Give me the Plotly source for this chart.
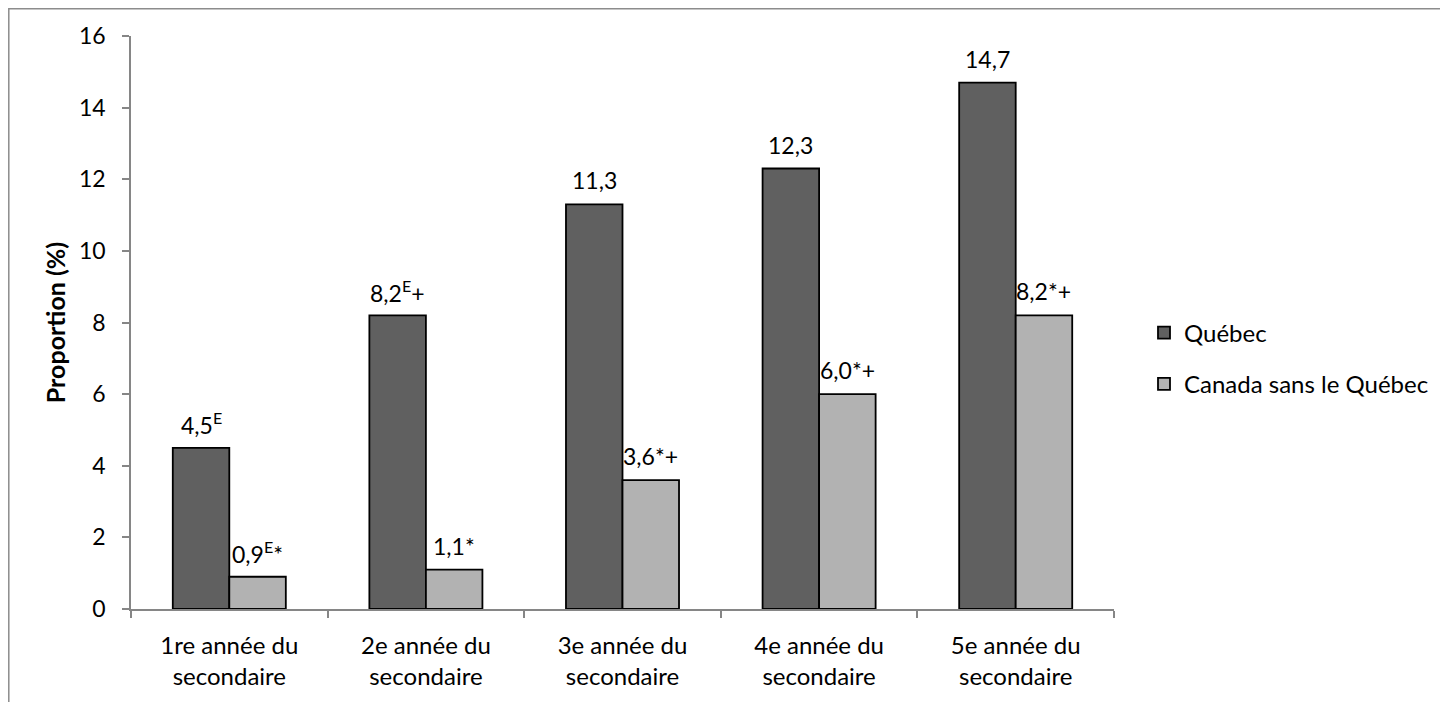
import plotly.graph_objects as go

categories_line1 = ["1re année du", "2e année du", "3e année du", "4e année du", "5e année du"]
categories_line2 = ["secondaire", "secondaire", "secondaire", "secondaire", "secondaire"]
quebec = [4.5, 8.2, 11.3, 12.3, 14.7]
canada = [0.9, 1.1, 3.6, 6.0, 8.2]
quebec_labels = ["4,5<sup>E</sup>", "8,2<sup>E</sup>+", "11,3", "12,3", "14,7"]
canada_labels = ["0,9<sup>E</sup>*", "1,1*", "3,6*+", "6,0*+", "8,2*+"]
series_names = ["Québec", "Canada sans le Québec"]
y_ticks = [0, 2, 4, 6, 8, 10, 12, 14, 16]

OFF = 8  # default page body margin
W, H = 1448 - OFF, 702 - OFF
ML, MR, MT, MB = 131 - OFF, 334, 36 - OFF, 93
PW = W - ML - MR
PH = H - MT - MB
BARGAP = 0.425
FONT = "Lato"
FS = 24
FS_TICK = 23


def px_x(page_x):
    return (page_x - OFF - ML) / PW


def px_y(page_y):
    return (MT + PH - (page_y - OFF)) / PH


cats = [f"{a}<br>{b}" for a, b in zip(categories_line1, categories_line2)]

fig = go.Figure()
fig.add_trace(go.Bar(
    x=cats, y=quebec, name=series_names[0], legendgroup="q",
    marker=dict(color="#606060", line=dict(color="#000000", width=1.8)),
))
fig.add_trace(go.Bar(
    x=cats, y=canada, name=series_names[1], legendgroup="c",
    marker=dict(color="#b2b2b2", line=dict(color="#000000", width=1.8)),
))

cat_px = PW / len(cats)
bar_px = cat_px * (1 - BARGAP) / 2
annotations = []
for i, c in enumerate(cats):
    for vals, labs, sgn in ((quebec, quebec_labels, -1), (canada, canada_labels, 1)):
        annotations.append(dict(
            x=c, y=vals[i], xref="x", yref="y", text=labs[i], showarrow=False,
            xshift=sgn * bar_px / 2, yshift=24, yanchor="middle", xanchor="center",
            font=dict(family=FONT, size=FS_TICK, color="#000000"),
        ))

fig.update_layout(
    width=W, height=H,
    margin=dict(l=ML, r=MR, t=MT, b=MB),
    paper_bgcolor="white", plot_bgcolor="white",
    barmode="group", bargap=BARGAP, bargroupgap=0,
    font=dict(family=FONT, size=FS, color="#000000"),
    showlegend=True,
    legend=dict(
        x=px_x(1144), xanchor="left", y=px_y(358.5), yanchor="middle",
        traceorder="grouped", tracegroupgap=17,
        font=dict(family=FONT, size=FS, color="#000000"),
        bgcolor="rgba(0,0,0,0)",
    ),
    annotations=annotations,
    shapes=[dict(
        type="rect", xref="paper", yref="paper",
        x0=px_x(8.8), x1=px_x(1444),
        y0=px_y(760), y1=px_y(8.8),
        line=dict(color="#8c8c8c", width=1.5), fillcolor="rgba(0,0,0,0)", layer="below",
    )],
)
fig.update_xaxes(
    showline=True, linecolor="#868686", linewidth=1.5,
    ticks="outside", ticklen=7, tickcolor="#868686", tickwidth=1.5,
    tickson="boundaries", showgrid=False, zeroline=False,
    ticklabelstandoff=14,
    tickfont=dict(family=FONT, size=FS, color="#000000"),
)
fig.update_yaxes(
    range=[0, 16], tickvals=y_ticks, ticktext=[str(v) for v in y_ticks],
    showline=True, linecolor="#868686", linewidth=1.5,
    ticks="outside", ticklen=7, tickcolor="#868686", tickwidth=1.5,
    showgrid=False, zeroline=False,
    ticklabelstandoff=12,
    title=dict(text="<b>Proportion (%)</b>", font=dict(family=FONT, size=25, color="#000000"), standoff=6),
    tickfont=dict(family=FONT, size=FS_TICK, color="#000000"),
)

fig.write_html("out.html")
